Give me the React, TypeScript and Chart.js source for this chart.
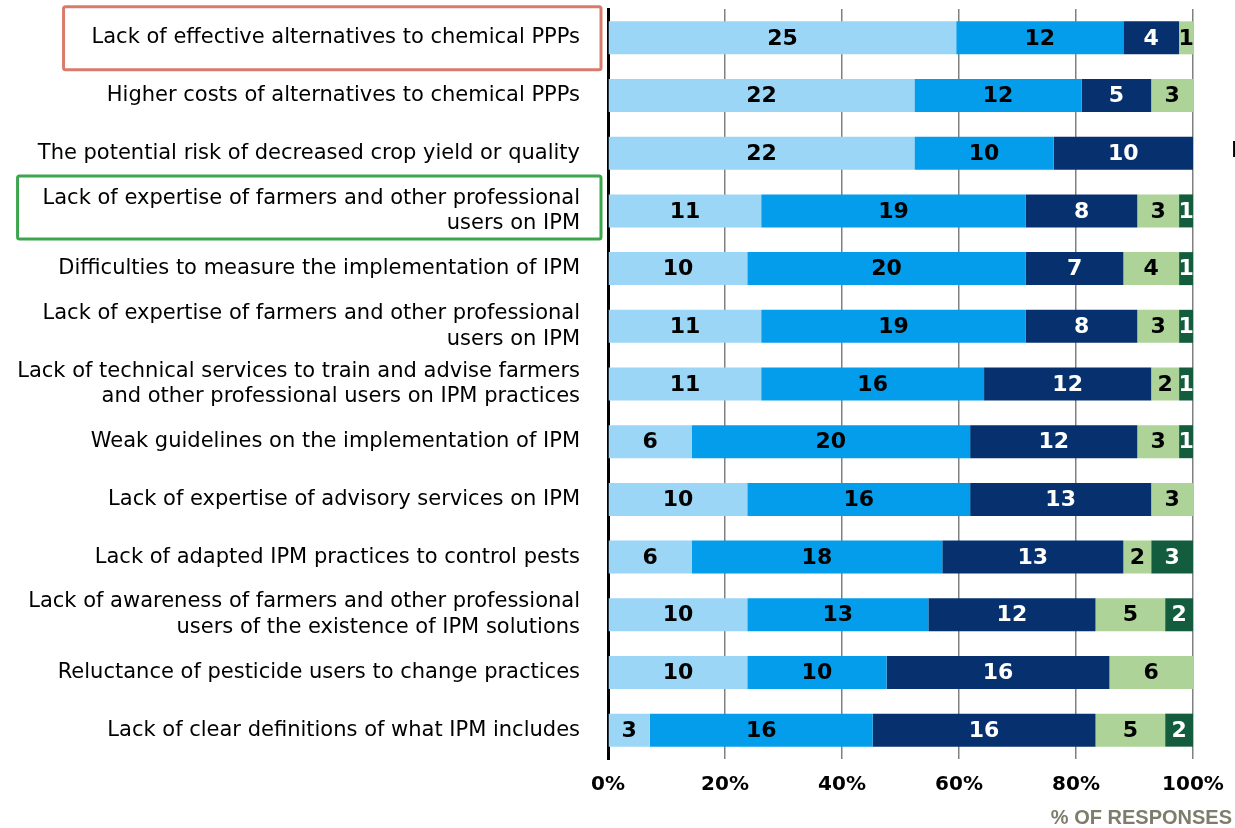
import React, { useEffect, useRef } from "react";
import { Chart, registerables } from "chart.js";

Chart.register(...registerables);

const categories: (string | string[])[] = [
  "Lack of effective alternatives to chemical PPPs",
  "Higher costs of alternatives to chemical PPPs",
  "The potential risk of decreased crop yield or quality",
  ["Lack of expertise of farmers and other professional", "users on IPM"],
  "Difficulties to measure the implementation of IPM",
  ["Lack of expertise of farmers and other professional", "users on IPM"],
  ["Lack of technical services to train and advise farmers", "and other professional users on IPM practices"],
  "Weak guidelines on the implementation of IPM",
  "Lack of expertise of advisory services on IPM",
  "Lack of adapted IPM practices to control pests",
  ["Lack of awareness of farmers and other professional", "users of the existence of IPM solutions"],
  "Reluctance of pesticide users to change practices",
  "Lack of clear definitions of what IPM includes",
];

const series1 = [25, 22, 22, 11, 10, 11, 11, 6, 10, 6, 10, 10, 3];
const series2 = [12, 12, 10, 19, 20, 19, 16, 20, 16, 18, 13, 10, 16];
const series3 = [4, 5, 10, 8, 7, 8, 12, 12, 13, 13, 12, 16, 16];
const series4 = [1, 3, 0, 3, 4, 3, 2, 3, 3, 2, 5, 6, 5];
const series5 = [0, 0, 0, 1, 1, 1, 1, 1, 0, 3, 2, 0, 2];

const xTicks = [0, 20, 40, 60, 80, 100];
const axisTitle = "% OF RESPONSES";

const seriesList = [series1, series2, series3, series4, series5];
const seriesColors = ["#9bd6f6", "#049dec", "#06316e", "#add398", "#135d3e"];
const labelColors = ["#000000", "#000000", "#ffffff", "#000000", "#ffffff"];

const highlightBoxes = [
  { index: 0, color: "#d97b6c", padLeft: 28, dy: 0.5 },
  { index: 3, color: "#3da54e", padLeft: 25, dy: -3.5 },
];

const totals = categories.map((_, i) => seriesList.reduce((s, arr) => s + arr[i], 0));

const FONT_FAMILY = "'DejaVu Sans', Verdana, sans-serif";
const LABEL_SIZE = 21;
const LABEL_FONT = `${LABEL_SIZE}px ${FONT_FAMILY}`;

const valueLabelPlugin = {
  id: "valueLabels",
  afterDatasetsDraw(chart: any) {
    const ctx = chart.ctx;
    ctx.save();
    ctx.font = `bold 22px ${FONT_FAMILY}`;
    ctx.textAlign = "center";
    ctx.textBaseline = "middle";
    chart.data.datasets.forEach((ds: any, di: number) => {
      const meta = chart.getDatasetMeta(di);
      meta.data.forEach((el: any, i: number) => {
        const raw = seriesList[di][i];
        if (!raw) return;
        const cx = (el.x + el.base) / 2;
        ctx.fillStyle = labelColors[di];
        ctx.fillText(String(raw), cx, el.y + 1);
      });
    });
    ctx.restore();
  },
};

const decorPlugin = {
  id: "decor",
  afterDraw(chart: any) {
    const ctx = chart.ctx;
    const yScale = chart.scales.y;
    const area = chart.chartArea;
    ctx.save();
    ctx.font = LABEL_FONT;
    highlightBoxes.forEach((b) => {
      const lab = categories[b.index];
      const lines = Array.isArray(lab) ? lab : [lab];
      const w = Math.max(...lines.map((l) => ctx.measureText(l).width));
      const right = area.left - 7;
      const textRight = area.left - 28;
      const left = textRight - w - b.padLeft;
      const cy = yScale.getPixelForTick(b.index) + b.dy;
      const h = 63;
      ctx.strokeStyle = b.color;
      ctx.lineWidth = 3;
      ctx.beginPath();
      (ctx as any).roundRect(left, cy - h / 2, right - left, h, 2);
      ctx.stroke();
    });
    ctx.font = "bold 20px 'Liberation Sans', Arial, sans-serif";
    ctx.fillStyle = "#7d7d6c";
    ctx.textAlign = "right";
    ctx.textBaseline = "middle";
    ctx.fillText(axisTitle, chart.width - 3, area.bottom + 59);
    ctx.font = LABEL_FONT;
    ctx.fillStyle = "#000000";
    ctx.textAlign = "left";
    ctx.fillText("L", area.right + 38, yScale.getPixelForTick(2) - 2);
    ctx.restore();
  },
};

export default function App() {
  const ref = useRef<HTMLCanvasElement | null>(null);

  useEffect(() => {
    if (!ref.current) return;
    const chart = new Chart(ref.current, {
      type: "bar",
      data: {
        labels: categories,
        datasets: seriesList.map((arr, di) => ({
          label: "S" + (di + 1),
          data: arr.map((v, i) => (v / totals[i]) * 100),
          backgroundColor: seriesColors[di],
          borderWidth: 0,
          barPercentage: 0.572,
          categoryPercentage: 1,
        })),
      },
      options: {
        indexAxis: "y",
        animation: false,
        responsive: false,
        maintainAspectRatio: false,
        layout: { padding: { left: 0, right: 42, top: 9, bottom: 0 } },
        plugins: {
          legend: { display: false },
          tooltip: { enabled: false },
          title: { display: false },
        },
        scales: {
          x: {
            stacked: true,
            min: 0,
            max: 100,
            afterBuildTicks: (scale: any) => {
              scale.ticks = xTicks.map((v) => ({ value: v }));
            },
            afterFit: (scale: any) => {
              scale.height = 69;
              scale.paddingTop = 0;
              scale.paddingBottom = 0;
              scale.paddingLeft = 0;
              scale.paddingRight = 0;
            },
            ticks: {
              callback: (v: any) => v + "%",
              color: "#000000",
              font: { family: FONT_FAMILY, size: 20, weight: "bold" },
              padding: 14,
              maxRotation: 0,
            },
            grid: {
              color: "#808080",
              lineWidth: 1.5,
              drawTicks: false,
            },
            border: { display: false },
          },
          y: {
            stacked: true,
            afterFit: (scale: any) => {
              scale.width = 608;
              scale.paddingTop = 0;
              scale.paddingBottom = 0;
            },
            ticks: {
              color: "#000000",
              font: { family: FONT_FAMILY, size: LABEL_SIZE, lineHeight: 1.22 },
              padding: 28,
              autoSkip: false,
            },
            grid: { display: false, drawTicks: false },
            border: { display: true, color: "#000000", width: 3 },
          },
        },
      },
      plugins: [valueLabelPlugin, decorPlugin],
    } as any);
    return () => chart.destroy();
  }, []);

  return (
    <div style={{ position: "fixed", left: 0, top: 0, width: 1235, height: 828, background: "#ffffff" }}>
      <canvas ref={ref} width={1235} height={828} style={{ width: 1235, height: 828 }} />
    </div>
  );
}
